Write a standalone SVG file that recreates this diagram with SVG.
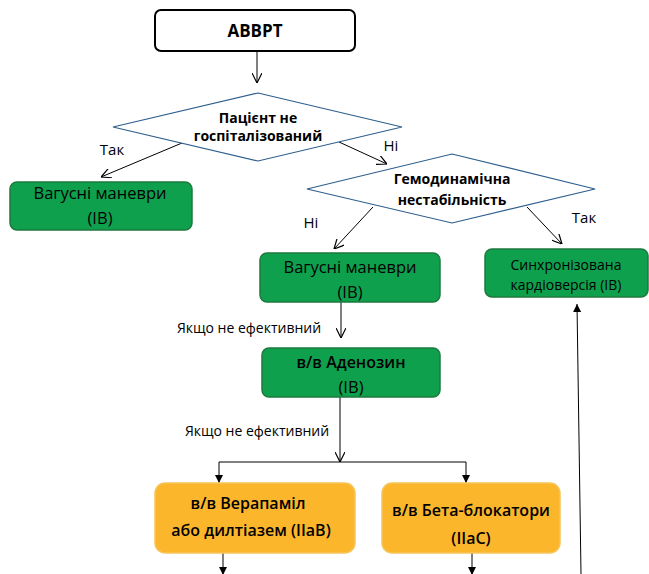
<svg xmlns="http://www.w3.org/2000/svg" width="649" height="574" viewBox="0 0 649 574">
  <style>
    text { font-family: "Open Sans", "Noto Sans", "DejaVu Sans", sans-serif; fill: #000; text-anchor: middle; }
    .start { fill: #fff; stroke: #000; stroke-width: 2; }
    .dec { fill: #fff; stroke: #2e5f8e; stroke-width: 1.2; }
    .green { fill: #0fa04e; stroke: #1d7a3e; stroke-width: 1.5; }
    .orange { fill: #fbb62b; stroke: #f7c45a; stroke-width: 1.5; }
    .t-start { font-size: 17px; font-weight: 700; }
    .t-dec { font-size: 14px; font-weight: 700; }
    .t-green { font-size: 16.5px; }
    .t-small { font-size: 14px; }
    .t-bold { font-size: 16px; font-weight: 600; }
    .lbl { font-size: 15px; }
    .lbl-s { font-size: 14px; }
    .edge { fill: none; stroke: #000; stroke-width: 1; }
    .edge-o { fill: none; stroke: #000; stroke-width: 1; marker-end: url(#open); }
    .edge-f { fill: none; stroke: #000; stroke-width: 1; marker-end: url(#solid); }
  </style>
  <defs>
    <marker id="open" viewBox="0 0 10 10" refX="10" refY="5" markerWidth="10" markerHeight="10" markerUnits="userSpaceOnUse" orient="auto">
      <path d="M0,0 L10,5 L0,10" fill="none" stroke="#000" stroke-width="1.2"/>
    </marker>
    <marker id="solid" viewBox="0 0 10 10" refX="10" refY="5" markerWidth="8" markerHeight="8" markerUnits="userSpaceOnUse" orient="auto">
      <path d="M0,0 L10,5 L0,10 Z" fill="#000"/>
    </marker>
  </defs>

  <!-- connectors -->
  <g id="connectors">
    <line class="edge-o" x1="257" y1="52" x2="257" y2="83"/>
    <line class="edge-o" x1="182" y1="143" x2="101" y2="177"/>
    <line class="edge-o" x1="339" y1="142" x2="387" y2="164"/>
    <line class="edge-o" x1="373" y1="207" x2="334" y2="249"/>
    <line class="edge-o" x1="527" y1="207" x2="562" y2="244"/>
    <line class="edge-o" x1="341" y1="302" x2="341" y2="338"/>
    <line class="edge-o" x1="340" y1="397" x2="340" y2="462"/>
    <polyline class="edge" points="219,462 466,462"/>
    <line class="edge-f" x1="219" y1="462" x2="219" y2="483"/>
    <line class="edge-f" x1="466" y1="462" x2="466" y2="483"/>
    <line class="edge-f" x1="223" y1="553" x2="223" y2="575"/>
    <line class="edge-f" x1="472" y1="553" x2="472" y2="575"/>
    <line class="edge-f" x1="581" y1="574" x2="577" y2="304"/>
  </g>

  <!-- edge labels -->
  <g id="labels">
    <text class="lbl" x="112" y="155">Так</text>
    <text class="lbl" x="391" y="151">Ні</text>
    <text class="lbl" x="311" y="228">Ні</text>
    <text class="lbl" x="584" y="223">Так</text>
    <text class="lbl-s" x="249" y="333">Якщо не ефективний</text>
    <text class="lbl-s" x="257" y="436">Якщо не ефективний</text>
  </g>

  <g id="n-start">
    <rect class="start" x="155" y="10" width="200" height="41" rx="6"/>
    <text class="t-start" x="255" y="37">АВВРТ</text>
  </g>

  <g id="n-hosp">
    <polygon class="dec" points="258,93 402,127 258,161 113,127"/>
    <text class="t-dec" x="258" y="123">Пацієнт не</text>
    <text class="t-dec" x="258" y="141">госпіталізований</text>
  </g>

  <g id="n-vagal1">
    <rect class="green" x="10" y="182" width="182" height="48" rx="7"/>
    <text class="t-green" x="100" y="199">Вагусні маневри</text>
    <text class="t-green" x="100" y="224">(IB)</text>
  </g>

  <g id="n-hemo">
    <polygon class="dec" points="452,154 595,189 452,223 307,189"/>
    <text class="t-dec" x="452" y="184">Гемодинамічна</text>
    <text class="t-dec" x="452" y="205">нестабільність</text>
  </g>

  <g id="n-vagal2">
    <rect class="green" x="260" y="253" width="180" height="49" rx="7"/>
    <text class="t-green" x="350" y="273">Вагусні маневри</text>
    <text class="t-green" x="350" y="298">(IB)</text>
  </g>

  <g id="n-cardio">
    <rect class="green" x="485" y="249" width="163" height="48" rx="7"/>
    <text class="t-small" x="566" y="270">Синхронізована</text>
    <text class="t-small" x="566" y="290">кардіоверсія (IB)</text>
  </g>

  <g id="n-adeno">
    <rect class="green" x="262" y="348" width="178" height="49" rx="7"/>
    <text class="t-bold" x="351" y="368">в/в Аденозин</text>
    <text class="t-green" x="351" y="393">(IB)</text>
  </g>

  <g id="n-verap">
    <rect class="orange" x="155" y="483" width="200" height="70" rx="10"/>
    <text class="t-bold" x="248" y="509">в/в Верапаміл</text>
    <text class="t-bold" x="251" y="536">або дилтіазем (IIaB)</text>
  </g>

  <g id="n-beta">
    <rect class="orange" x="382" y="483" width="178" height="70" rx="10"/>
    <text class="t-bold" x="471" y="516">в/в Бета-блокатори</text>
    <text class="t-bold" x="471" y="544">(IIaC)</text>
  </g>
</svg>
